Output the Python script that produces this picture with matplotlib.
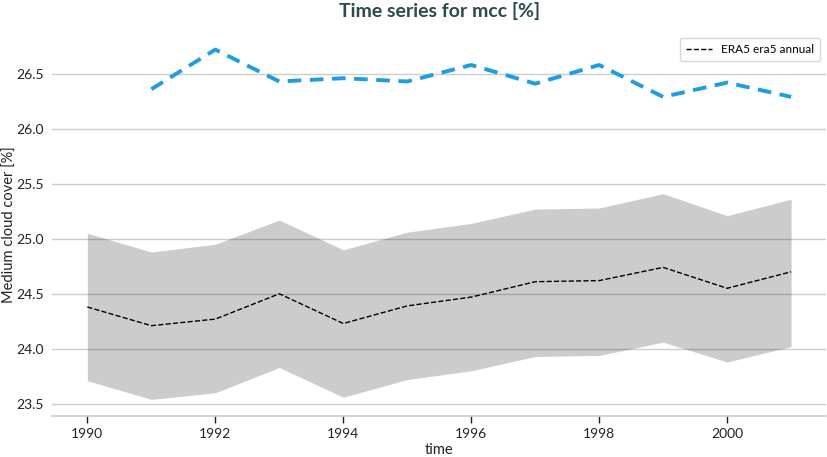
import matplotlib
matplotlib.use("Agg")
import matplotlib.pyplot as plt
import numpy as np

plt.rcParams['font.family'] = ['Lato', 'DejaVu Sans']

years = np.arange(1990, 2002)
era5_mean = [24.38, 24.21, 24.27, 24.50, 24.23, 24.39, 24.47, 24.61, 24.62, 24.74, 24.55, 24.70]
era5_upper = [25.05, 24.88, 24.95, 25.17, 24.90, 25.06, 25.14, 25.27, 25.28, 25.41, 25.21, 25.36]
era5_lower = [23.71, 23.54, 23.60, 23.83, 23.56, 23.72, 23.80, 23.93, 23.94, 24.06, 23.88, 24.02]

model_years = np.arange(1991, 2002)
model_vals = [26.36, 26.72, 26.43, 26.46, 26.43, 26.58, 26.41, 26.58, 26.29, 26.42, 26.29]

fig = plt.figure(figsize=(8.28, 4.57), dpi=100)
ax = fig.add_axes([0.063, 0.089, 0.935, 0.841])

ax.fill_between(years, era5_lower, era5_upper, color='black', alpha=0.2, linewidth=0, zorder=2)
ax.plot(years, era5_mean, color='black', linestyle='--', linewidth=1, label='ERA5 era5 annual', zorder=3)
ax.plot(model_years, model_vals, color='#1f9de1', linestyle=(0, (3.5, 2.2)), linewidth=2.8, zorder=3)

ax.set_xlim(1989.45, 2001.55)
ax.set_ylim(23.386, 26.88)
ax.set_yticks([23.5, 24.0, 24.5, 25.0, 25.5, 26.0, 26.5])
ax.set_xticks([1990, 1992, 1994, 1996, 1998, 2000])

ax.grid(True, axis='y', color='#cccccc', linewidth=1, zorder=1)
ax.set_axisbelow(True)
for s in ['top', 'right', 'left']:
    ax.spines[s].set_visible(False)
ax.spines['bottom'].set_color('#cccccc')
ax.spines['bottom'].set_linewidth(1.2)
ax.tick_params(axis='y', length=0, labelsize=10, pad=6, colors='#222222')
ax.tick_params(axis='x', length=5, width=1, labelsize=10, colors='#222222')

ax.set_xlabel('time', fontsize=10.5, color='#222222', labelpad=2)
ax.set_ylabel('Medium cloud cover [%]', fontsize=10.5, color='#222222')
ax.yaxis.set_label_coords(-0.046, 0.5)
ax.set_title('Time series for mcc [%]', fontsize=14, fontweight='bold', color='#2b4a50', pad=11)

leg = ax.legend(loc='upper right', fontsize=8.5, frameon=True, fancybox=True,
                handlelength=2.2, borderpad=0.5)
leg.get_frame().set_edgecolor('#cccccc')

fig.savefig('out.png', dpi=100)
